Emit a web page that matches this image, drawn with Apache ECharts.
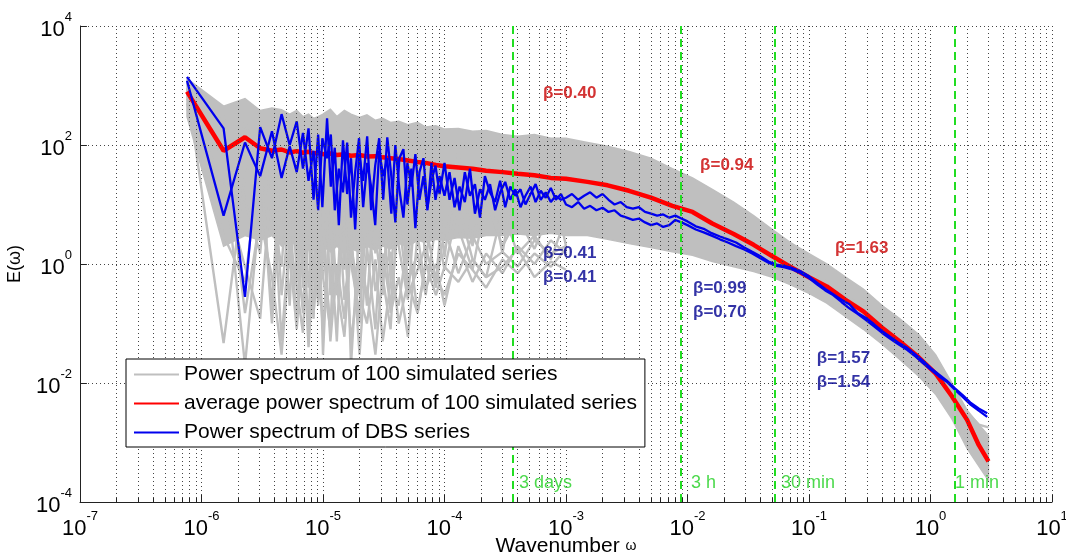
<!DOCTYPE html>
<html><head><meta charset="utf-8">
<script src="https://cdn.jsdelivr.net/npm/echarts@6.0.0/dist/echarts.min.js"></script>
<style>html,body{margin:0;padding:0;background:#fff}#c{width:1066px;height:558px}</style>
</head><body><div id="c"></div>
<script>
// ---------------- data ----------------
const grayX = [7.6e-7,1.52e-6,2.28e-6,3.04e-6,3.8e-6,4.56e-6,5.32e-6,6.08e-6,6.84e-6,7.6e-6,8.36e-6,9.12e-6,1e-5,1.15e-5,1.3e-5,1.5e-5,1.7e-5,2e-5,2.3e-5,2.7e-5,3.1e-5,3.6e-5,4.2e-5,5e-5,6e-5,7e-5,8.5e-5,1e-4,1.3e-4,1.7e-4,2.2e-4,3e-4,4e-4,5.5e-4,7.5e-4,1e-3,1.5e-3,2.2e-3,3.3e-3,5e-3,7.5e-3,1.1e-2,1.6e-2,2.4e-2,3.5e-2,5e-2,7e-2,0.1,0.14,0.2,0.28,0.4,0.56,0.8,1.1,1.5,2.0,2.5,3.0];
// envelope of the 100 simulated spectra
const grayUpper = [1300,450,600,380,420,390,330,380,300,330,280,300,330,400,300,380,330,290,320,260,280,240,250,220,240,200,210,185,190,170,175,150,140,150,130,130,110,95,78,60,40,28,18,11,6.5,3.8,2.3,1.5,1.0,0.6,0.38,0.2,0.12,0.065,0.03,0.01,0.0035,0.002,0.0013];
const grayLower = [300,2,3,2.5,3,2,2.5,2,2.5,1.8,2.2,1.8,2,1.6,2,1.5,1.8,1.6,2,1.7,2,1.8,2.2,2,2.5,2.3,2.6,2.5,2.8,2.7,3,3,3.2,3,3.3,3,3,2.6,2.2,1.9,1.6,1.4,1.1,0.9,0.75,0.6,0.45,0.32,0.22,0.13,0.08,0.045,0.025,0.013,0.0065,0.0025,0.0008,0.0004,0.00023];
// individual simulated spectra with deep dips (first 36 wavenumbers)
const graySim1 = [900,0.047,30,150,8,0.9,60,2,0.15,40,0.5,20,0.03,15,0.3,60,0.02,5,0.2,30,0.6,0.08,20,0.5,1.5,0.3,5,0.8,10,1.2,0.6,8,1.5,3,1.2,6];
const graySim2 = [600,60,0.02,10,90,0.3,8,0.09,30,0.4,3,0.2,6,0.05,1,0.12,4,0.03,2,0.08,10,0.15,0.6,0.06,3,0.4,1,0.2,2,0.5,1.5,0.7,2,1,2.5,1.5];
const graySim3 = [350,300,12,1.5,250,6,200,0.5,150,3,250,1,180,0.3,120,0.8,200,0.4,80,1.5,150,0.5,60,1,100,0.9,50,1.3,80,2,40,1.5,60,2.5,30,2];
const graySim4 = [1100,8,250,40,0.2,120,1,50,6,0.07,80,0.6,120,3,0.05,50,1,0.15,40,3,0.3,60,2,0.25,30,5,0.5,20,4,0.8,12,2,6,1.8,8,3];
const graySim5 = [500,3,0.5,60,0.1,20,0.2,90,0.4,3,0.12,40,0.6,0.08,25,0.25,2,0.1,10,0.35,1.5,0.2,6,0.3,0.8,2,0.4,4,0.7,3,1,1.6,0.9,2.5,1.5,2];
const graySim6 = [700,20,0.9,0.12,40,0.05,3,0.4,0.07,8,0.15,1,0.08,5,0.4,0.06,2,0.3,0.1,1.2,0.05,0.5,0.2,3,0.15,1,0.6,0.3,1.5,0.8,0.4,1.2,0.7,1.5,0.9,1.8];
const graySim7 = [400,150,0.15,6,0.6,0.03,1.5,0.08,2.5,0.04,0.9,0.25,2,0.09,0.6,3,0.05,0.8,0.35,0.03,0.7,1.6,0.1,0.5,0.15,1,0.3,0.9,0.5,1.2,0.6,0.9,1.8,0.6,1.1,0.8];
// simulated spectrum tail (last 12 wavenumbers)
const graySimTail = [0.75,0.5,0.3,0.19,0.1,0.058,0.03,0.016,0.0075,0.0032,0.002,0.0018];
const redY = [790,80,135,88,80,84,75,79,74,77,72,74,70,72,68,70,66,68,64,65,62,60,58,55,52,50,46,44,42,40,37,35,33,31,28,27,24,21,17,13,9.5,7.5,4.8,3.2,2.1,1.35,0.9,0.6,0.42,0.25,0.16,0.085,0.05,0.027,0.0145,0.006,0.0024,0.0009,0.00048];

const blueX = [7.6e-7,1.52e-6,2.28e-6,3.04e-6,3.8e-6,4.56e-6,5.32e-6,6.08e-6,6.84e-6,7.6e-6,8.36e-6,9.12e-6,9.88e-6,
1.08e-5,1.16e-5,1.25e-5,1.35e-5,1.46e-5,1.58e-5,1.70e-5,1.84e-5,1.98e-5,2.14e-5,2.31e-5,2.49e-5,2.69e-5,2.9e-5,3.13e-5,3.38e-5,3.65e-5,3.94e-5,4.25e-5,4.59e-5,4.95e-5,5.34e-5,5.76e-5,6.22e-5,6.71e-5,7.24e-5,7.81e-5,8.43e-5,9.1e-5,
1e-4,1.1e-4,1.21e-4,1.33e-4,1.47e-4,1.62e-4,1.78e-4,1.96e-4,2.15e-4,2.37e-4,2.61e-4,2.87e-4,3.16e-4,3.48e-4,3.83e-4,4.22e-4,4.64e-4,5.11e-4,5.62e-4,6.19e-4,6.81e-4,7.5e-4,8.25e-4,9.09e-4,
1e-3,1.12e-3,1.26e-3,1.41e-3,1.58e-3,1.78e-3,2e-3,2.24e-3,2.51e-3,2.82e-3,3.16e-3,3.55e-3,3.98e-3,4.47e-3,5.01e-3,5.62e-3,6.31e-3,7.08e-3,7.94e-3,8.91e-3,
1e-2,1.17e-2,1.36e-2,1.58e-2,1.85e-2,2.15e-2,2.51e-2,2.93e-2,3.41e-2,3.98e-2,4.64e-2,5.41e-2,6.31e-2,7.36e-2,8.58e-2,
0.1,0.117,0.136,0.158,0.185,0.215,0.251,0.293,0.341,0.398,0.464,0.541,0.631,0.736,0.858,1.0,1.17,1.36,1.58,1.85,2.15,2.51,2.93];
const blueA = [1400,190,0.28,200,60,330,100,250,40,190,12,150,9,
280,20,90,4.5,120,15,60,3.8,70,25,140,8,45,130,12,135,30,5,60,85,10,40,4,35,60,9,25,45,15,
50,12,28,8,35,14,22,6,30,16,11,25,9,20,14,18,10,15,22,12,16,11,14,12,
13,15,12,14,16,13,15,12,10,11,9,8.5,9,7.5,7,6.5,6.8,6,6.5,5.8,
5.2,4.3,3.9,3.3,2.9,2.6,2.3,1.9,1.6,1.35,1.1,0.98,0.92,0.85,0.75,
0.62,0.48,0.38,0.31,0.25,0.21,0.15,0.125,0.098,0.075,0.06,0.048,0.04,0.031,0.024,0.018,0.014,0.011,0.0082,0.0062,0.0046,0.0037,0.0031];
const blueB = [1200,6.5,110,30,170,28,95,35,160,25,80,8,130,
60,150,8,40,16,110,6,35,130,9,50,20,4.5,80,30,60,7,100,18,6,50,20,70,12,30,8,50,12,30,
14,35,9,20,11,40,7,18,12,22,8,16,24,12,18,9,14,20,11,17,13,19,12,15,
10,9,11,8.5,9.5,8,8.8,7.5,8,6.5,6,5.5,5.8,5,4.5,4.8,4.2,4.5,5.5,5,
4.5,3.8,3.4,3.0,2.6,2.3,2.0,1.75,1.5,1.25,1.05,0.93,0.88,0.8,0.7,
0.58,0.45,0.36,0.3,0.23,0.18,0.145,0.115,0.09,0.07,0.056,0.045,0.037,0.029,0.022,0.017,0.013,0.0105,0.0078,0.0058,0.0043,0.0034,0.0027];

// time-scale markers
const markerX = [3.636e-4, 8.727e-3, 5.236e-2, 1.5708];
const markerText = ['3 days', '3 h', '30 min', '1 min'];
const markerTextX = [4.1e-4, 1.07e-2, 5.89e-2, 1.59];
const markerTextY = 2.1e-4;
// slope annotations
const betaText = ['β=0.40','β=0.94','β=1.63','β=0.41','β=0.41','β=0.99','β=0.70','β=1.57','β=1.54'];
const betaX = [6.47e-4, 1.27e-2, 0.164, 6.47e-4, 6.47e-4, 1.11e-2, 1.11e-2, 0.116, 0.116];
const betaY = [748, 46, 1.86, 1.53, 0.605, 0.395, 0.156, 0.0263, 0.0104];
const betaGroup = ['r','r','r','b','b','b','b','b','b'];

const names = ['Power spectrum of 100 simulated series','average power spectrum of 100 simulated series','Power spectrum of DBS series'];

// ---------------- chart ----------------
const FONT = "'Liberation Sans', Arial, sans-serif";
const pairs = (xs, ys) => ys.map((y, i) => [xs[i], y]);
const GRAY = '#bfbfbf';
const X_MIN = 1e-7, X_MAX = 10, Y_MIN = 1e-4, Y_MAX = 1e4;

const gridLines = [];
const minorTicks = [];
for (let e = -7; e <= 0; e++) {
  for (let m = 2; m <= 9; m++) {
    const v = m * Math.pow(10, e);
    gridLines.push([{ coord: [v, Y_MIN] }, { coord: [v, Y_MAX] }]);
    minorTicks.push([{ coord: [v, Y_MIN] }, { coord: [v, Y_MIN * 1.17] }]);
  }
}
[1e-2, 1, 1e2, 1e4].forEach(v => {
  gridLines.push([{ coord: [X_MIN, v] }, { coord: [X_MAX, v] }]);
  minorTicks.push([{ coord: [X_MIN, v] }, { coord: [X_MIN * 1.14, v] }]);
});

const supLabel = (v, skipOdd) => {
  const e = Math.round(Math.log10(v));
  if (skipOdd && e % 2 !== 0) return '';
  return '{b|10}{s|' + e + '}';
};
const labelRich = {
  b: { fontSize: 22, fontFamily: FONT, color: '#000', lineHeight: 30, verticalAlign: 'bottom' },
  s: { fontSize: 13, fontFamily: FONT, color: '#000', lineHeight: 12, verticalAlign: 'top' }
};
const grayLine = (xs, ys) => ({ type: 'line', name: names[0], data: pairs(xs, ys), color: GRAY, symbol: 'none',
  lineStyle: { color: GRAY, width: 2.4 }, z: 2, silent: true });

const option = {
  animation: false,
  backgroundColor: '#fff',
  grid: { left: 80, right: 14, top: 26, bottom: 56, containLabel: false, outerBoundsMode: 'none' },
  legend: {
    data: names, orient: 'vertical', left: 126, top: 359,
    itemWidth: 45, itemHeight: 14, itemGap: 8, padding: [5, 8, 4, 7],
    backgroundColor: '#fff', borderColor: '#000', borderWidth: 1, borderRadius: 0,
    selectedMode: false, z: 20,
    itemStyle: { opacity: 0 },
    textStyle: { fontSize: 21, fontFamily: FONT, color: '#000' }
  },
  xAxis: {
    type: 'log', logBase: 10, min: X_MIN, max: X_MAX, splitNumber: 8,
    name: '{n|Wavenumber }{w|ω}', nameLocation: 'middle', nameGap: 34, nameMoveOverlap: false,
    nameTextStyle: { rich: { n: { fontSize: 21, fontFamily: FONT, color: '#000' }, w: { fontSize: 14, fontFamily: FONT, color: '#000' } } },
    axisLine: { show: true, lineStyle: { color: '#222', width: 1 } },
    axisTick: { show: true, inside: true, length: 7, lineStyle: { color: '#222' } },
    axisLabel: { margin: 8, formatter: v => supLabel(v, false), rich: labelRich },
    splitLine: { show: true, lineStyle: { color: '#444', width: 1, type: [1, 3] } }
  },
  yAxis: {
    type: 'log', logBase: 10, min: Y_MIN, max: Y_MAX, splitNumber: 8,
    name: 'E(ω)', nameLocation: 'middle', nameGap: 56, nameMoveOverlap: false,
    nameTextStyle: { fontSize: 18, fontFamily: FONT, color: '#000' },
    axisLine: { show: true, lineStyle: { color: '#222', width: 1 } },
    axisTick: { show: false },
    axisLabel: { margin: 8, formatter: v => supLabel(v, true), rich: labelRich },
    splitLine: { show: false }
  },
  series: [
    { type: 'line', name: '_grid', data: [], z: 1, silent: true,
      markLine: { silent: true, symbol: ['none', 'none'], label: { show: false }, animation: false,
        lineStyle: { color: '#444', width: 1, type: [1, 3] }, data: gridLines } },
    { type: 'line', name: '_ticks', data: [], z: 6, silent: true,
      markLine: { silent: true, symbol: ['none', 'none'], label: { show: false }, animation: false,
        lineStyle: { color: '#222', width: 1, type: 'solid' }, data: minorTicks } },
    grayLine(grayX, graySim1),
    { type: 'custom', name: '_band', z: 2, silent: true, clip: true,
      data: grayX.map((x, i) => [x, grayUpper[i], grayLower[i]]),
      encode: { x: 0, y: [1, 2] },
      renderItem: function (params, api) {
        if (params.dataIndex !== 0) return null;
        const pts = [];
        for (let i = 0; i < grayX.length; i++) pts.push(api.coord([grayX[i], grayUpper[i]]));
        for (let i = grayX.length - 1; i >= 0; i--) pts.push(api.coord([grayX[i], grayLower[i]]));
        return { type: 'polygon', shape: { points: pts }, style: { fill: GRAY, stroke: GRAY, lineWidth: 1.5 } };
      } },
    grayLine(grayX, graySim2),
    grayLine(grayX, graySim3),
    grayLine(grayX, graySim4),
    grayLine(grayX, graySim5),
    grayLine(grayX, graySim6),
    grayLine(grayX, graySim7),
    grayLine(grayX.slice(47), graySimTail),
    { type: 'line', name: names[1], data: pairs(grayX, redY), color: '#ff0000', symbol: 'none', lineStyle: { color: '#ff0000', width: 4.5 }, z: 3, silent: true },
    { type: 'line', name: names[2], data: pairs(blueX, blueA), color: '#0000ee', symbol: 'none', lineStyle: { color: '#0000ee', width: 2.3 }, z: 4, silent: true },
    { type: 'line', name: names[2], data: pairs(blueX, blueB), color: '#0000ee', symbol: 'none', lineStyle: { color: '#0000ee', width: 2.3 }, z: 4, silent: true },
    { type: 'line', name: '_markers', data: [], z: 5, silent: true,
      markLine: { silent: true, symbol: ['none', 'none'], label: { show: false }, animation: false,
        lineStyle: { color: '#22dd22', width: 2, type: [8, 5] },
        data: markerX.map(v => [{ coord: [v, Y_MIN] }, { coord: [v, Y_MAX] }]) } },
    { type: 'scatter', name: '_markerText', z: 7, silent: true, symbolSize: 0,
      data: markerText.map((t, i) => ({ value: [markerTextX[i], markerTextY], name: t })),
      label: { show: true, position: 'right', distance: 0, formatter: p => p.name,
        color: '#1fcf1f', fontSize: 18, fontFamily: FONT } },
    { type: 'scatter', name: '_beta', z: 7, silent: true, symbolSize: 0,
      data: betaText.map((t, i) => ({ value: [betaX[i], betaY[i]], name: t,
        label: { color: betaGroup[i] === 'r' ? '#c80000' : '#000090' } })),
      label: { show: true, position: 'right', distance: 0, formatter: p => p.name,
        fontSize: 17, fontWeight: 'bold', fontFamily: FONT } }
  ]
};
const chart = echarts.init(document.getElementById('c'), null, { renderer: 'canvas' });
chart.setOption(option);
</script></body></html>
